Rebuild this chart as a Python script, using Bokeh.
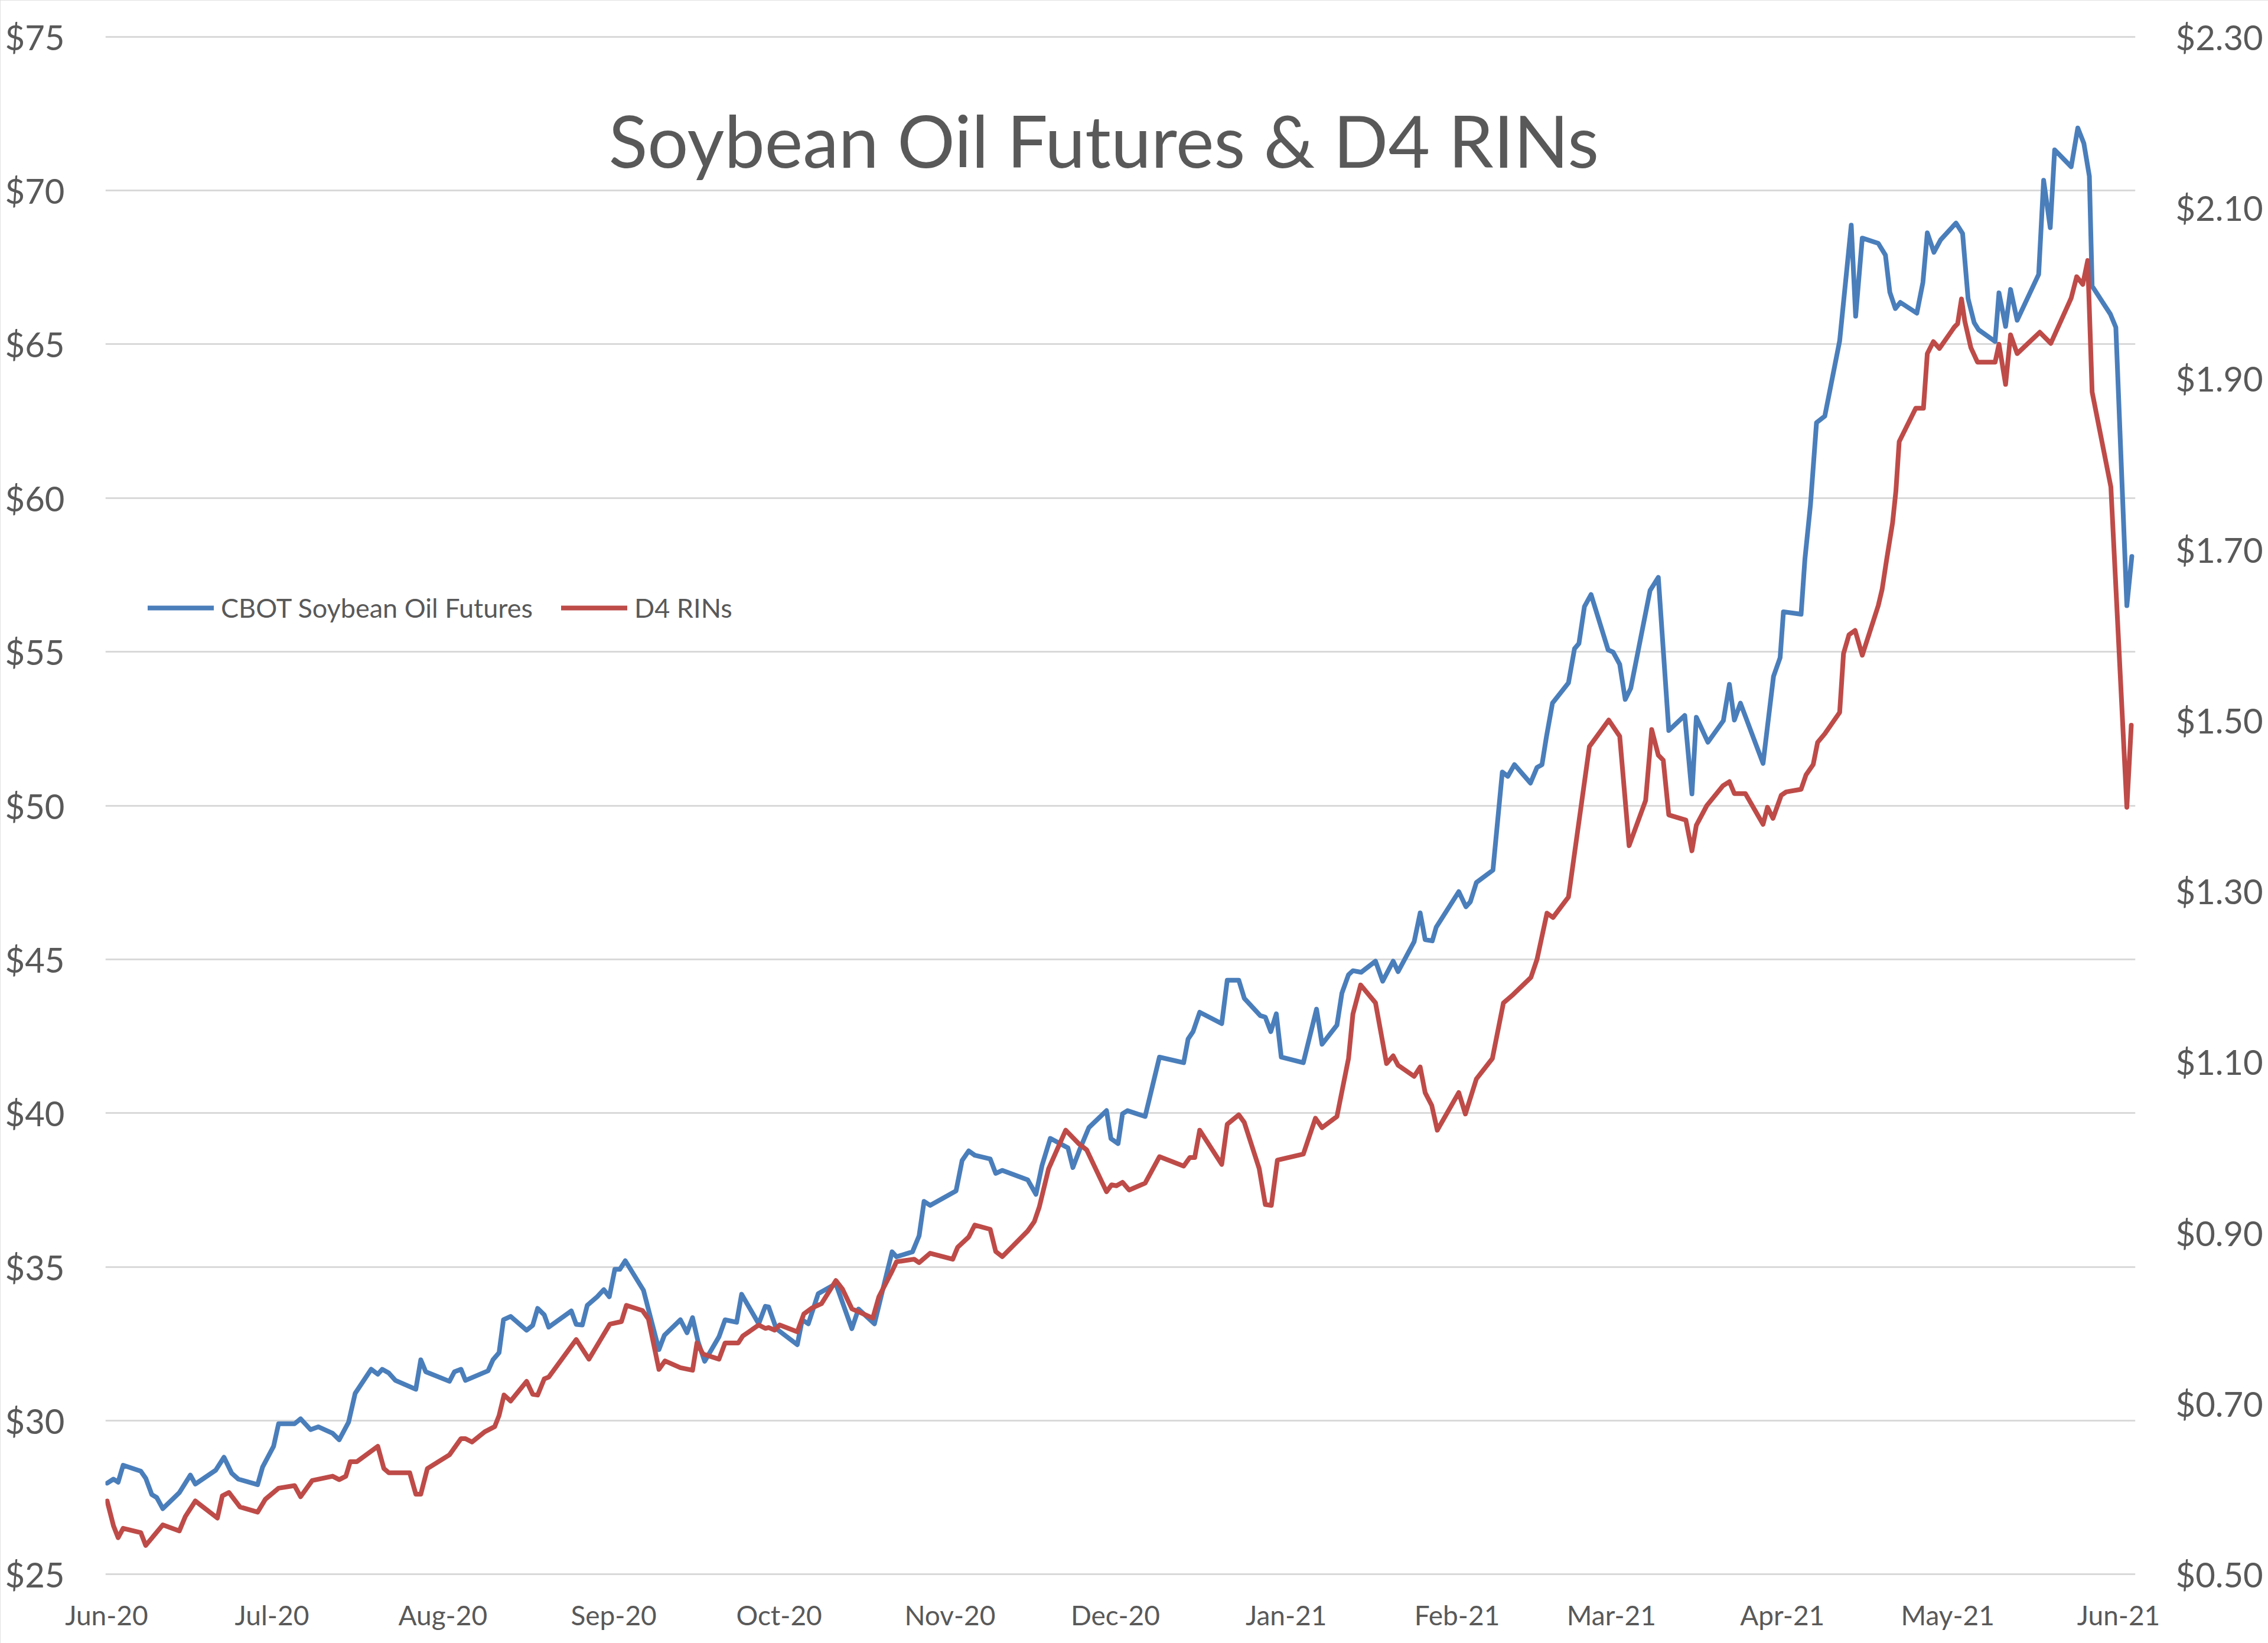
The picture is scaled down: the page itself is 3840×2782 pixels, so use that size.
import pandas as pd
from bokeh.plotting import figure
from bokeh.models import (Range1d, LinearAxis, FixedTicker, NumeralTickFormatter,
                          DatetimeTickFormatter, Legend, LegendItem, Label)
from bokeh.embed import file_html
from bokeh.resources import INLINE

START = pd.Timestamp("2020-06-01")

# ---- data (day offsets from 2020-06-01) ----
soy_days = [0.1, 1.25, 2.1, 3.0, 6.2, 7.1, 8.2, 9.1, 10.2, 13.2, 15.2, 16.1, 19.8, 21.3, 22.7, 23.9,
            27.4, 28.3, 30.3, 31.2, 34.1, 35.2, 37.0, 38.4, 41.0, 42.2, 43.9, 45.1, 48.0, 49.2, 50.0,
            51.2, 52.4, 56.1, 57.0, 57.9, 62.2, 63.1, 64.3, 65.1, 69.2, 70.1, 71.2, 72.0, 73.3, 76.2,
            77.3, 78.2, 79.4, 80.2, 84.3, 85.2, 86.3, 87.2, 89.0, 90.2, 91.2, 92.2, 93.1, 94.1, 97.4,
            98.6, 100.2, 101.2, 104.1, 105.3, 106.3, 107.3, 108.5, 111.1, 112.2, 114.3, 115.2, 118.3,
            119.5, 120.1, 121.5, 125.3, 126.2, 127.3, 129.1, 132.3, 135.2, 136.4, 139.3, 141.0, 142.5,
            143.3, 146.2, 147.4, 148.3, 149.4, 154.1, 155.2, 156.4, 157.5, 160.3, 161.3, 162.5, 167.1,
            168.6, 169.7, 171.2, 174.4, 175.3, 176.5, 178.2, 181.4, 182.2, 183.5, 184.3, 185.2, 188.4,
            191.0, 195.4, 196.2, 197.1, 198.3, 202.3, 203.3, 205.4, 206.4, 209.3, 210.2, 211.2, 212.2,
            213.1, 217.1, 219.5, 220.5, 223.2, 224.1, 225.3, 226.1, 227.6, 230.2, 231.5, 233.4, 234.3,
            237.2, 238.3, 239.2, 240.5, 241.2, 245.3, 246.6, 247.4, 248.5, 251.5, 253.2, 254.2, 255.4,
            258.3, 259.5, 260.4, 261.2, 262.3, 265.2, 266.3, 267.1, 268.1, 269.3, 272.4, 273.3, 274.5,
            275.5, 276.5, 280.0, 281.5, 283.4, 286.3, 287.6, 288.4, 290.5, 293.3, 294.4, 295.3, 296.4,
            300.5, 302.4, 303.6, 304.2, 307.4, 308.1, 309.1, 310.2, 311.7, 314.4, 316.5, 317.3, 318.5,
            321.4, 322.7, 323.5, 324.5, 325.4, 328.4, 329.5, 330.3, 331.5, 332.7, 335.5, 336.7, 337.7,
            338.8, 339.6, 342.6, 343.3, 344.5, 345.4, 346.6, 350.5, 351.4, 352.6, 353.4, 356.4, 357.6,
            358.7, 359.7, 360.2, 363.5, 364.5, 366.5, 367.4]
soy_price = [27.97, 28.10, 28.00, 28.55, 28.36, 28.13, 27.60, 27.50, 27.14, 27.66, 28.23, 27.94, 28.39,
             28.81, 28.29, 28.10, 27.92, 28.49, 29.17, 29.90, 29.90, 30.06, 29.71, 29.80, 29.59, 29.38,
             29.95, 30.89, 31.67, 31.51, 31.67, 31.55, 31.31, 31.02, 31.98, 31.59, 31.28, 31.59, 31.67,
             31.31, 31.62, 31.98, 32.21, 33.28, 33.39, 32.94, 33.10, 33.65, 33.44, 33.04, 33.57, 33.13,
             33.11, 33.75, 34.03, 34.26, 34.03, 34.92, 34.92, 35.20, 34.24, 33.41, 32.31, 32.78, 33.28,
             32.86, 33.35, 32.57, 31.93, 32.73, 33.28, 33.20, 34.11, 33.15, 33.72, 33.70, 32.99, 32.47,
             33.28, 33.15, 34.13, 34.45, 32.99, 33.63, 33.15, 34.40, 35.49, 35.33, 35.49, 36.01, 37.13,
             37.00, 37.47, 38.46, 38.77, 38.63, 38.51, 38.04, 38.14, 37.83, 37.36, 38.30, 39.18, 38.87,
             38.23, 38.80, 39.53, 40.08, 39.17, 39.01, 39.98, 40.08, 39.89, 41.82, 41.64, 42.41, 42.65,
             43.28, 42.91, 44.32, 44.32, 43.73, 43.17, 43.12, 42.65, 43.23, 41.82, 41.64, 43.38, 42.24,
             42.86, 43.90, 44.50, 44.63, 44.58, 44.94, 44.29, 44.94, 44.60, 45.57, 46.51, 45.64, 45.60,
             46.04, 47.20, 46.71, 46.87, 47.50, 47.90, 51.09, 50.95, 51.33, 50.73, 51.24, 51.33, 52.23,
             53.33, 53.99, 55.10, 55.27, 56.47, 56.86, 55.06, 54.99, 54.59, 53.45, 53.81, 56.99, 57.42,
             52.44, 52.93, 50.38, 52.87, 52.06, 52.76, 53.94, 52.78, 53.33, 51.37, 54.20, 54.81, 56.30,
             56.22, 58.02, 59.77, 62.45, 62.66, 65.11, 68.87, 65.91, 68.45, 68.28, 67.90, 66.69, 66.16,
             66.36, 66.01, 67.01, 68.62, 67.99, 68.39, 68.94, 68.60, 66.48, 65.70, 65.47, 65.09, 66.67,
             65.58, 66.78, 65.78, 67.27, 70.33, 68.79, 71.32, 70.77, 72.03, 71.53, 70.46, 66.89, 65.98,
             65.55, 56.50, 58.10]

rin_days = [0.1, 1.25, 2.1, 3.0, 6.2, 7.1, 10.2, 13.2, 14.3, 16.1, 20.1, 21.0, 22.2, 24.2, 27.4, 28.8,
            31.2, 34.1, 35.2, 37.3, 41.0, 42.2, 43.4, 44.2, 45.4, 49.2, 50.3, 51.2, 55.0, 56.1, 57.0,
            58.2, 62.2, 64.3, 65.1, 66.3, 68.6, 70.4, 71.2, 72.1, 73.3, 76.2, 77.3, 78.2, 79.4, 80.2,
            85.2, 87.5, 91.3, 93.4, 94.3, 97.2, 98.3, 100.2, 101.3, 104.1, 106.3, 107.1, 108.2, 111.1,
            112.2, 114.6, 115.4, 118.3, 119.5, 120.1, 121.2, 122.1, 125.3, 126.5, 128.0, 129.7, 132.3,
            133.5, 135.2, 139.0, 140.1, 142.5, 143.3, 146.5, 147.4, 149.4, 153.5, 154.4, 156.4, 157.5,
            160.3, 161.3, 162.5, 167.1, 168.3, 169.2, 170.9, 174.0, 176.4, 177.8, 181.4, 182.3, 183.2,
            184.3, 185.5, 188.4, 191.0, 195.4, 196.5, 197.4, 198.3, 202.3, 203.3, 205.4, 206.4, 209.1,
            210.2, 211.3, 212.4, 217.1, 218.3, 219.3, 220.5, 223.2, 225.3, 226.1, 227.5, 230.2, 232.2,
            233.4, 234.3, 237.2, 238.3, 239.2, 240.4, 241.4, 245.3, 246.5, 248.5, 251.4, 253.4, 255.2,
            258.4, 259.5, 261.3, 262.4, 265.2, 269.0, 272.5, 274.5, 276.2, 279.2, 280.3, 281.5, 282.4,
            283.4, 286.5, 287.6, 288.4, 290.3, 293.2, 294.4, 295.3, 297.3, 300.5, 301.3, 302.3, 303.8,
            304.7, 307.4, 308.3, 309.6, 310.4, 311.7, 314.4, 315.1, 316.1, 317.2, 318.5, 321.4, 322.1,
            322.9, 324.0, 324.6, 325.2, 328.2, 329.6, 330.3, 331.4, 332.5, 335.2, 335.8, 336.5, 337.1,
            338.2, 339.4, 342.6, 343.3, 344.5, 345.4, 346.6, 350.7, 352.7, 356.4, 357.4, 358.5, 359.4,
            360.2, 363.6, 366.5, 367.3]
rin_price = [0.586, 0.557, 0.543, 0.554, 0.549, 0.534, 0.558, 0.551, 0.568, 0.586, 0.566, 0.592, 0.596,
             0.579, 0.573, 0.588, 0.601, 0.604, 0.591, 0.610, 0.615, 0.611, 0.615, 0.632, 0.632, 0.650,
             0.624, 0.619, 0.619, 0.594, 0.594, 0.624, 0.640, 0.659, 0.659, 0.655, 0.667, 0.673, 0.686,
             0.710, 0.703, 0.726, 0.711, 0.710, 0.729, 0.731, 0.775, 0.752, 0.793, 0.796, 0.815, 0.809,
             0.799, 0.740, 0.750, 0.742, 0.739, 0.771, 0.758, 0.752, 0.771, 0.771, 0.779, 0.792, 0.788,
             0.789, 0.786, 0.792, 0.784, 0.805, 0.812, 0.817, 0.844, 0.834, 0.811, 0.800, 0.825, 0.855,
             0.866, 0.869, 0.865, 0.876, 0.869, 0.883, 0.895, 0.909, 0.904, 0.878, 0.872, 0.902, 0.913,
             0.930, 0.975, 1.020, 1.004, 0.997, 0.948, 0.956, 0.955, 0.959, 0.950, 0.958, 0.989, 0.978,
             0.988, 0.988, 1.020, 0.980, 1.027, 1.038, 1.029, 0.975, 0.933, 0.932, 0.985, 0.992, 1.015,
             1.034, 1.023, 1.036, 1.104, 1.156, 1.190, 1.169, 1.098, 1.107, 1.096, 1.083, 1.094, 1.064,
             1.049, 1.020, 1.064, 1.039, 1.080, 1.104, 1.169, 1.179, 1.199, 1.220, 1.274, 1.269, 1.293,
             1.469, 1.500, 1.481, 1.353, 1.406, 1.489, 1.459, 1.453, 1.389, 1.383, 1.347, 1.377, 1.400,
             1.423, 1.428, 1.414, 1.414, 1.378, 1.398, 1.385, 1.412, 1.416, 1.419, 1.436, 1.448, 1.474,
             1.484, 1.509, 1.578, 1.600, 1.605, 1.576, 1.634, 1.653, 1.687, 1.731, 1.768, 1.826, 1.865,
             1.865, 1.929, 1.943, 1.935, 1.960, 1.964, 1.993, 1.967, 1.936, 1.919, 1.919, 1.940, 1.893,
             1.951, 1.929, 1.954, 1.941, 1.994, 2.019, 2.010, 2.038, 1.884, 1.773, 1.398, 1.494]

month_ticks = ["2020-06-01", "2020-07-01", "2020-08-01", "2020-09-01", "2020-10-01", "2020-11-01",
               "2020-12-01", "2021-01-01", "2021-02-01", "2021-03-01", "2021-04-01", "2021-05-01",
               "2021-06-01"]
left_ticks = [25, 30, 35, 40, 45, 50, 55, 60, 65, 70, 75]
right_ticks = [0.50, 0.70, 0.90, 1.10, 1.30, 1.50, 1.70, 1.90, 2.10, 2.30]

series_names = ["CBOT Soybean Oil Futures", "D4 RINs"]
title_text = "Soybean Oil Futures & D4 RINs"

FONT = "Lato"
TXT = "#595959"
BLUE = "#4A7EBB"
RED = "#BE4B48"
W, H = 3840, 2782


def to_ms(ts):
    return ts.value / 1e6


def days_to_dt(days):
    return [START + pd.Timedelta(days=d) for d in days]


soy_x = days_to_dt(soy_days)
rin_x = days_to_dt(rin_days)

# a hair of padding so the $25 / $75 gridlines are fully drawn
PAD_L = 0.03
PAD_R = PAD_L * (2.3 - 0.5) / (75 - 25)

p = figure(width=W, height=H, output_backend="svg", toolbar_location=None,
           x_axis_type="datetime",
           x_range=Range1d(to_ms(START + pd.Timedelta(days=-0.21)),
                           to_ms(START + pd.Timedelta(days=368.05))),
           y_range=Range1d(25 - PAD_L, 75 + PAD_L),
           min_border_left=178, min_border_right=225, min_border_top=60, min_border_bottom=115)
p.outline_line_color = None
p.background_fill_color = "white"
p.border_fill_color = "white"
p.styles = {"outline": "4px solid #d9d9d9", "outline-offset": "-4px"}

p.extra_y_ranges = {"rin": Range1d(0.5 - PAD_R, 2.3 + PAD_R)}

# left axis
la = p.yaxis[0]
la.ticker = FixedTicker(ticks=left_ticks)
la.formatter = NumeralTickFormatter(format="$0")
# right axis
ra = LinearAxis(y_range_name="rin")
ra.ticker = FixedTicker(ticks=right_ticks)
ra.formatter = NumeralTickFormatter(format="$0.00")
p.add_layout(ra, "right")
# bottom axis
xa = p.xaxis[0]
xa.ticker = FixedTicker(ticks=[to_ms(pd.Timestamp(t)) for t in month_ticks])
xa.formatter = DatetimeTickFormatter(days="%b-%y", months="%b-%y", years="%b-%y",
                                     hours="%b-%y", minutes="%b-%y", seconds="%b-%y",
                                     milliseconds="%b-%y", microseconds="%b-%y")

for ax in (la, ra, xa):
    ax.axis_line_color = None
    ax.major_tick_line_color = None
    ax.minor_tick_line_color = None
    ax.major_label_text_color = TXT
    ax.major_label_text_font = FONT
la.major_label_text_font_size = "58px"
ra.major_label_text_font_size = "58px"
xa.major_label_text_font_size = "46px"
la.major_label_standoff = 63
ra.major_label_standoff = 62
xa.major_label_standoff = 33

p.xgrid.grid_line_color = None
p.ygrid.grid_line_color = "#d9d9d9"
p.ygrid.grid_line_width = 3
p.ygrid.ticker = FixedTicker(ticks=left_ticks)

r1 = p.line(x=soy_x, y=soy_price, line_color=BLUE, line_width=8,
            line_join="round", line_cap="round")
r2 = p.line(x=rin_x, y=rin_price, y_range_name="rin", line_color=RED, line_width=8,
            line_join="round", line_cap="round")

legend = Legend(items=[LegendItem(label=series_names[0], renderers=[r1]),
                       LegendItem(label=series_names[1], renderers=[r2])],
                orientation="horizontal", location=(72, 1611),
                glyph_width=112, glyph_height=50, label_height=50, label_standoff=12,
                spacing=48, padding=0, margin=0, border_line_color=None,
                background_fill_alpha=0, label_text_font_size="45px",
                label_text_color=TXT, label_text_font=FONT)
p.add_layout(legend)

title = Label(x=to_ms(START + pd.Timedelta(days=180.9)), y=71.65, text=title_text,
              text_align="center", text_baseline="alphabetic", text_font_size="122px",
              text_color=TXT, text_font=FONT)
p.add_layout(title)

open("out.html", "w").write(file_html(p, INLINE))
